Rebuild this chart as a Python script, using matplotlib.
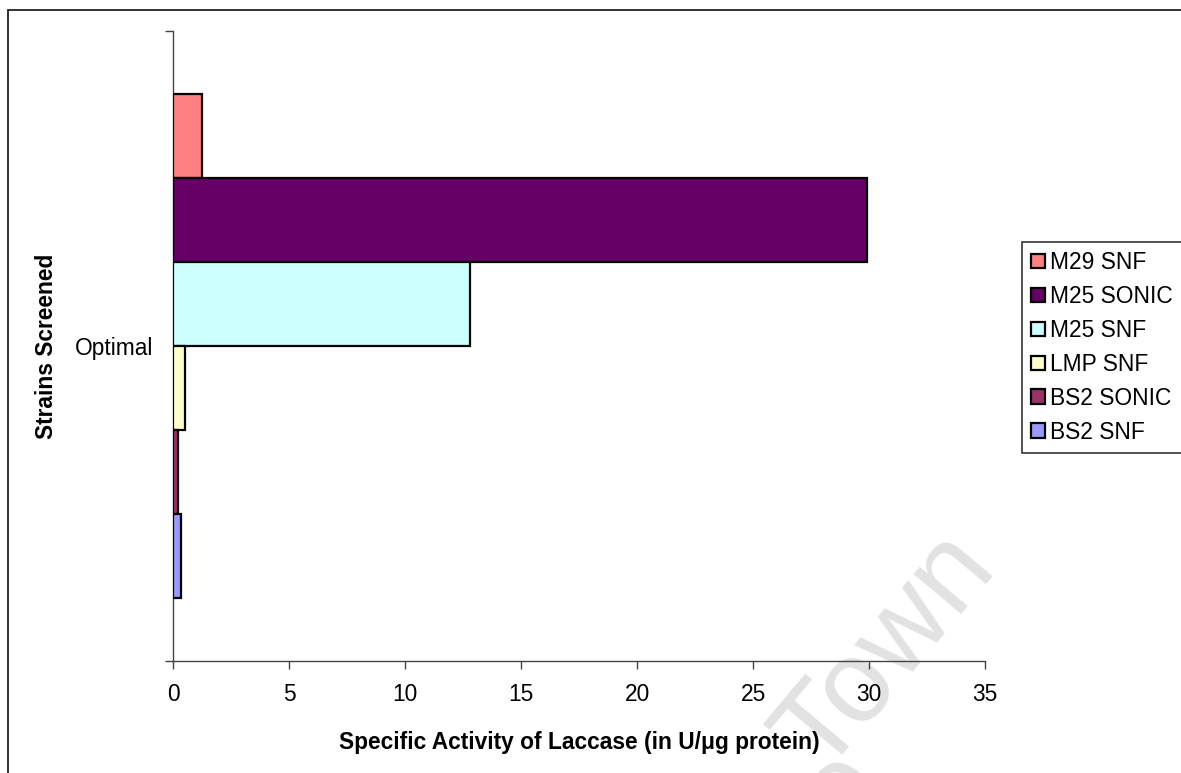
import matplotlib
matplotlib.use("Agg")
import matplotlib.pyplot as plt
from matplotlib.patches import Rectangle

plt.rcParams['font.family'] = ['Liberation Sans', 'DejaVu Sans']

# Data
category = "Optimal"
series_names = ["M29 SNF", "M25 SONIC", "M25 SNF", "LMP SNF", "BS2 SONIC", "BS2 SNF"]
series_values = [1.25, 29.9, 12.8, 0.52, 0.23, 0.33]
series_colors = ["#FF8080", "#660066", "#CCFFFF", "#FFFFCC", "#993366", "#9999FF"]
x_ticks = [0, 5, 10, 15, 20, 25, 30, 35]

W, H = 1181, 773
FS = 16.4
fig = plt.figure(figsize=(W / 100, H / 100), dpi=100)
fig.patch.set_facecolor("white")

# Outer chart frame
fig.patches.append(Rectangle((8 / W, -0.1), 1.2, (H - 10) / H + 0.1,
                             transform=fig.transFigure, fill=False,
                             edgecolor="#222222", linewidth=1.3, zorder=5))

ax = fig.add_axes([173 / W, (H - 661) / H, 812 / W, 630 / H])
ax.set_facecolor("none")

n = len(series_values)
group = 0.8
bar_h = group / n
for i, (name, val, col) in enumerate(zip(series_names, series_values, series_colors)):
    center = 0.9 - bar_h * (i + 0.5)
    ax.barh(center, val, height=bar_h, color=col, edgecolor="black",
            linewidth=1.6, label=name, zorder=3)

ax.set_xlim(0, 35)
ax.set_ylim(0, 1)
ax.set_xticks(x_ticks)
ax.set_xticklabels([str(t) for t in x_ticks])
ax.set_yticks([0, 1])
ax.set_yticklabels(["", ""])
ax.set_yticks([0.5], minor=True)
ax.set_yticklabels([category], minor=True)

for s in ["top", "right"]:
    ax.spines[s].set_visible(False)
for s in ["left", "bottom"]:
    ax.spines[s].set_color("#444444")
    ax.spines[s].set_linewidth(1.0)

ax.tick_params(axis="x", direction="out", length=6, width=1.0, color="#444444",
               labelsize=FS, pad=10)
ax.tick_params(axis="y", which="major", direction="out", length=6, width=1.0,
               color="#444444")
ax.tick_params(axis="y", which="minor", length=0, labelsize=FS, pad=14)

ax.set_xlabel("Specific Activity of Laccase (in U/\u03bcg protein)",
              fontsize=FS, fontweight="bold", labelpad=18)
ax.set_ylabel("Strains Screened", fontsize=FS, fontweight="bold")
ax.yaxis.set_label_coords((58 - 173) / 812, 0.5)

leg = ax.legend(loc="upper left",
                bbox_to_anchor=(1022 / W, (H - 242) / H, 200 / W, 0),
                bbox_transform=fig.transFigure, mode="expand",
                fontsize=FS, frameon=True, fancybox=False,
                handlelength=0.62, handleheight=0.62, handletextpad=0.2,
                labelspacing=0.48, borderpad=0.4, borderaxespad=0)
leg.get_frame().set_edgecolor("black")
leg.get_frame().set_linewidth(1.2)

# Faint background watermark
fig.text(998 / W, (H - 568) / H, "Town", fontsize=84, color="#E2E2E2",
         rotation=50, rotation_mode="anchor", ha="right", va="baseline",
         zorder=-1)
fig.text(842 / W, (H - 790) / H, "e", fontsize=84, color="#E2E2E2",
         rotation=50, rotation_mode="anchor", ha="center", va="center",
         zorder=-1, clip_on=False)

fig.savefig("out.png", dpi=100, facecolor="white")
